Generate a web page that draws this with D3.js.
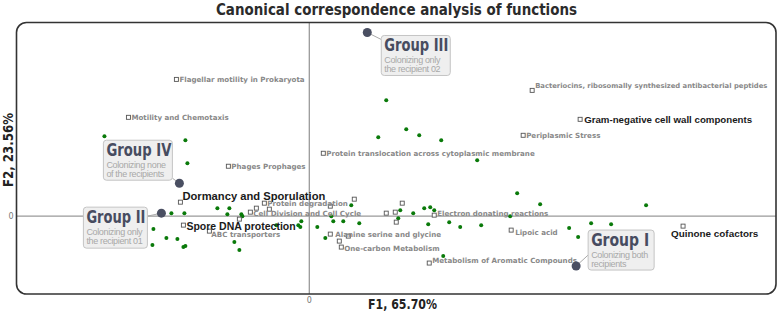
<!DOCTYPE html>
<html><head><meta charset="utf-8">
<script src="https://cdn.jsdelivr.net/npm/d3@7"></script>
<style>
body{margin:0;background:#fff;}
svg{display:block;}
</style></head>
<body>
<svg id="chart" width="778" height="314"></svg>
<script>
// ---------- DATA ----------
const title = "Canonical correspondence analysis of functions";
const xAxisTitle = "F1, 65.70%";
const yAxisTitle = "F2, 23.56%";
const xDomain = [-1.465, 2.335];
const yDomain = [-0.39, 0.97];

// taxa / samples (green points)
const pointF1 = [-1.025,-0.62,-0.61,0.385,0.485,0.55,0.345,0.66,0.84,
  -0.69,-0.625,-0.46,-0.40,-0.41,-0.34,-0.335,-0.78,-0.715,-0.66,-0.785,-0.63,-0.62,-0.375,-0.35,-0.165,
  -0.04,-0.055,-0.045,0.04,0.08,0.11,0.12,0.17,0.21,0.25,0.455,0.445,0.52,0.575,0.605,0.625,0.595,
  0.70,0.755,0.86,1.04,1.155,1.005,0.67,1.685,1.30,1.345,1.41,1.51];
const pointF2 = [0.40,0.38,0.265,0.58,0.435,0.405,0.395,0.38,0.28,
  0.015,0.015,0.04,0.04,0.01,0.01,0.0,-0.065,-0.11,-0.115,-0.145,-0.155,-0.15,-0.13,-0.17,-0.045,
  -0.025,-0.045,-0.055,-0.055,-0.11,0.0,-0.025,-0.025,0.055,-0.035,0.03,-0.01,0.015,0.04,0.045,0.03,-0.04,
  -0.03,-0.055,-0.045,0.115,0.06,0.0,-0.20,0.055,-0.06,-0.105,-0.035,-0.04];

// functions (hollow squares)
const funcNames = ["Flagellar motility in Prokaryota","Motility and Chemotaxis",
  "Bacteriocins, ribosomally synthesized antibacterial peptides","Gram-negative cell wall components",
  "Periplasmic Stress","Protein translocation across cytoplasmic membrane","Phages Prophages",
  "Dormancy and Sporulation","Protein degradation","Cell Division and Cell Cycle","Spore DNA protection",
  "ABC transporters","Alanine serine and glycine","One-carbon Metabolism","Metabolism of Aromatic Compounds",
  "Electron donating reactions","Lipoic acid","Quinone cofactors",
  "","","","","","","","","","",""];
const funcF1 = [-0.665,-0.905,1.115,1.355,1.07,0.07,-0.405,-0.645,-0.225,-0.295,-0.63,-0.50,0.105,0.16,0.60,0.625,1.01,1.87,
  -0.35,-0.265,-0.20,0.105,0.225,0.385,0.43,0.465,0.435,0.15,0.195];
const funcF2 = [0.685,0.495,0.63,0.485,0.405,0.315,0.25,0.07,0.065,0.02,-0.045,-0.075,-0.09,-0.155,-0.235,0.005,-0.07,-0.05,
  -0.015,0.04,0.035,0.05,0.085,0.015,0.02,0.065,-0.03,-0.125,-0.10];
const highlighted = ["Gram-negative cell wall components","Dormancy and Sporulation","Spore DNA protection","Quinone cofactors"];

// groups (centroids)
const groupNames = ["Group I","Group II","Group III","Group IV"];
const groupDesc = [["Colonizing both","recipients"],["Colonizing only","the recipient 01"],
  ["Colonizing only","the recipient 02"],["Colonizing none","of the recipients"]];
const groupF1 = [1.335,-0.74,0.29,-0.65];
const groupF2 = [-0.25,0.015,0.92,0.165];

// ---------- STYLE / LAYOUT ----------
const frame = {l:16.5, t:22.5, r:776, b:294, rad:10};
const heavy = "'DejaVu Sans','Liberation Sans',sans-serif";
const labelFont = "'DejaVu Sans',Verdana,sans-serif";
const labelStyle = {
  "Bacteriocins, ribosomally synthesized antibacterial peptides":{dx:3,dy:-5,size:6.8},
  "Gram-negative cell wall components":{dx:4,dy:0,size:9.7},
  "Dormancy and Sporulation":{dx:2,dy:-6,size:11.2},
  "Spore DNA protection":{dx:3,dy:1,size:10.5},
  "Quinone cofactors":{dx:-12,dy:7,size:9.9},
  "ABC transporters":{dx:2,dy:3},
  "Protein degradation":{dx:3,dy:0},
  "Cell Division and Cell Cycle":{dx:3,dy:1},
  "One-carbon Metabolism":{dx:3,dy:1},
  "Metabolism of Aromatic Compounds":{dx:3,dy:-3},
  "Electron donating reactions":{dx:3,dy:-2},
  "Lipoic acid":{dx:4,dy:2},
  "Alanine serine and glycine":{dx:5,dy:0}
};
// group box placement relative to centroid
const boxStyle = [
  {dx:12,dy:-36,w:66,h:40,cx:12,cy:-11,tw:58},
  {dx:-78,dy:-6,w:64,h:41,cx:-14,cy:3,tw:59},
  {dx:14,dy:3,w:69,h:40,cx:14,cy:7,tw:64},
  {dx:-76,dy:-43,w:69,h:40,cx:-7,cy:-5,tw:65}
];

const svg = d3.select("#chart");
const x = d3.scaleLinear().domain(xDomain).range([frame.l, frame.r]);
const y = d3.scaleLinear().domain(yDomain).range([frame.b, frame.t]);

// title
svg.append("text").attr("x", 216).attr("y", 15)
  .attr("textLength", 361).attr("lengthAdjust","spacingAndGlyphs")
  .style("font-family", heavy).style("font-weight","bold").style("font-size","16.5px")
  .attr("fill","#2b2b2b").text(title);

// axes lines through origin
svg.append("line").attr("x1", frame.l).attr("x2", frame.r).attr("y1", y(0)).attr("y2", y(0))
  .attr("stroke","#9a9a9a").attr("stroke-width",1.3);
svg.append("line").attr("x1", x(0)).attr("x2", x(0)).attr("y1", frame.t).attr("y2", frame.b)
  .attr("stroke","#9a9a9a").attr("stroke-width",1.3);

// frame with rounded corners
svg.append("rect").attr("x", frame.l).attr("y", frame.t).attr("width", frame.r-frame.l).attr("height", frame.b-frame.t)
  .attr("rx", frame.rad).attr("fill","none").attr("stroke","#333").attr("stroke-width",1.6);

// zero tick labels
svg.append("text").attr("x", x(0)).attr("y", 303).attr("text-anchor","middle")
  .style("font-family", labelFont).style("font-size","8px").attr("fill","#777").text("0");
svg.append("text").attr("x", 11).attr("y", y(0)+3).attr("text-anchor","middle")
  .style("font-family", labelFont).style("font-size","8px").attr("fill","#777").text("0");

// axis titles
svg.append("text").attr("x", 368).attr("y", 309)
  .attr("textLength", 69).attr("lengthAdjust","spacingAndGlyphs")
  .style("font-family", heavy).style("font-weight","bold").style("font-size","13.5px")
  .attr("fill","#222").text(xAxisTitle);
svg.append("text").attr("transform","translate(13,187) rotate(-90)")
  .attr("textLength", 74).attr("lengthAdjust","spacingAndGlyphs")
  .style("font-family", heavy).style("font-weight","bold").style("font-size","13.5px")
  .attr("fill","#222").text(yAxisTitle);

// green points
const pts = pointF1.map((v,i)=>({f1:v, f2:pointF2[i]}));
svg.append("g").selectAll("circle").data(pts).join("circle")
  .attr("cx", d=>x(d.f1)).attr("cy", d=>y(d.f2)).attr("r",2)
  .attr("fill","#0a7a0a");

// functions
const funcs = funcNames.map((n,i)=>({name:n, f1:funcF1[i], f2:funcF2[i]}));
const fg = svg.append("g");
fg.selectAll("rect").data(funcs).join("rect")
  .attr("x", d=>x(d.f1)-2).attr("y", d=>y(d.f2)-2).attr("width",4).attr("height",4)
  .attr("fill","#fff").attr("stroke","#555").attr("stroke-width",0.9);
fg.selectAll("text").data(funcs.filter(d=>d.name)).join("text")
  .attr("x", d=>x(d.f1) + ((labelStyle[d.name]||{}).dx ?? 3))
  .attr("y", d=>y(d.f2) + ((labelStyle[d.name]||{}).dy ?? 0))
  .attr("dy","0.35em")
  .style("font-family", d=> highlighted.includes(d.name) ? "'Liberation Sans',Arial,sans-serif" : labelFont)
  .style("font-weight","bold")
  .style("font-size", d=> ((labelStyle[d.name]||{}).size ?? 7.1) + "px")
  .attr("fill", d=> highlighted.includes(d.name) ? "#1a1a1a" : "#888")
  .text(d=>d.name);

// groups
const groups = groupNames.map((n,i)=>({name:n, desc:groupDesc[i], f1:groupF1[i], f2:groupF2[i], s:boxStyle[i]}));
const gg = svg.append("g").selectAll("g").data(groups).join("g");
gg.append("line")
  .attr("x1", d=>x(d.f1)).attr("y1", d=>y(d.f2))
  .attr("x2", d=>x(d.f1)+d.s.cx).attr("y2", d=>y(d.f2)+d.s.cy)
  .attr("stroke","#aaa").attr("stroke-width",1);
gg.append("rect")
  .attr("x", d=>x(d.f1)+d.s.dx).attr("y", d=>y(d.f2)+d.s.dy)
  .attr("width", d=>d.s.w).attr("height", d=>d.s.h).attr("rx",3)
  .attr("fill","#efefef").attr("stroke","#c4c4c4").attr("stroke-width",1);
gg.append("circle").attr("cx", d=>x(d.f1)).attr("cy", d=>y(d.f2)).attr("r",4.5).attr("fill","#4a4f62");
gg.append("text")
  .attr("x", d=>x(d.f1)+d.s.dx+3).attr("y", d=>y(d.f2)+d.s.dy+16)
  .attr("textLength", d=>d.s.tw).attr("lengthAdjust","spacingAndGlyphs")
  .style("font-family", heavy).style("font-weight","bold").style("font-size","17px")
  .attr("fill","#474c60").text(d=>d.name);
gg.each(function(d){
  const g = d3.select(this);
  d.desc.forEach((line,k)=>{
    g.append("text").attr("x", x(d.f1)+d.s.dx+3).attr("y", y(d.f2)+d.s.dy+27.5+k*9.5)
      .style("font-family","'Liberation Sans',Arial,sans-serif").style("font-size","9px")
      .style("letter-spacing","-0.35px")
      .attr("fill","#a8a8a8").text(line);
  });
});
</script>
</body></html>
